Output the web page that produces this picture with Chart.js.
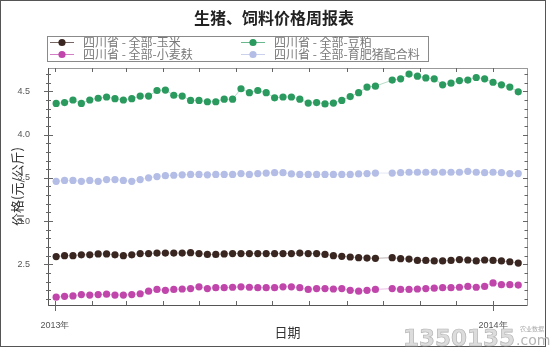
<!DOCTYPE html>
<html>
<head>
<meta charset="utf-8">
<script src="https://cdn.jsdelivr.net/npm/chart.js@4/dist/chart.umd.min.js"></script>
<style>
    html, body { margin: 0; padding: 0; background: #fff; }
    #wrap { width: 550px; height: 349px; }
</style>
</head>
<body>
<div id="wrap"><canvas id="priceChart" width="550" height="349"></canvas></div>
<script>
// Weekly sampling dates (no report on 2013-10-02, National Day week)
const weeks = [
    '2013-01-02', '2013-01-09', '2013-01-16', '2013-01-23', '2013-01-30',
    '2013-02-06', '2013-02-13', '2013-02-20', '2013-02-27',
    '2013-03-06', '2013-03-13', '2013-03-20', '2013-03-27',
    '2013-04-03', '2013-04-10', '2013-04-17', '2013-04-24',
    '2013-05-01', '2013-05-08', '2013-05-15', '2013-05-22', '2013-05-29',
    '2013-06-05', '2013-06-12', '2013-06-19', '2013-06-26',
    '2013-07-03', '2013-07-10', '2013-07-17', '2013-07-24', '2013-07-31',
    '2013-08-07', '2013-08-14', '2013-08-21', '2013-08-28',
    '2013-09-04', '2013-09-11', '2013-09-18', '2013-09-25',
    '2013-10-09', '2013-10-16', '2013-10-23', '2013-10-30',
    '2013-11-06', '2013-11-13', '2013-11-20', '2013-11-27',
    '2013-12-04', '2013-12-11', '2013-12-18', '2013-12-25',
    '2014-01-01', '2014-01-08', '2014-01-15', '2014-01-22'
];

// 元/公斤
const corn = [
    2.59, 2.60, 2.60, 2.61, 2.61, 2.62, 2.62, 2.61, 2.60, 2.61, 2.625, 2.625, 2.63, 2.63,
    2.63, 2.63, 2.635, 2.625, 2.615, 2.615, 2.62, 2.625, 2.625, 2.625, 2.625, 2.625, 2.625, 2.625,
    2.625, 2.63, 2.625, 2.625, 2.615, 2.60, 2.593, 2.585, 2.577, 2.573, 2.57,
    2.577, 2.565, 2.561, 2.545, 2.545, 2.54, 2.54, 2.545, 2.555, 2.55, 2.54, 2.55, 2.545, 2.54, 2.53, 2.515
];
const soyMeal = [
    4.36, 4.37, 4.40, 4.36, 4.40, 4.42, 4.435, 4.415, 4.40, 4.415, 4.445, 4.445, 4.51, 4.515,
    4.455, 4.445, 4.395, 4.395, 4.38, 4.38, 4.41, 4.41, 4.53, 4.485, 4.51, 4.485, 4.425, 4.435,
    4.435, 4.41, 4.365, 4.37, 4.355, 4.365, 4.395, 4.44, 4.485, 4.55, 4.56,
    4.63, 4.645, 4.70, 4.675, 4.655, 4.645, 4.575, 4.595, 4.625, 4.63, 4.66, 4.645, 4.605, 4.575, 4.55, 4.495
];
const wheatBran = [
    2.12, 2.13, 2.135, 2.15, 2.145, 2.15, 2.155, 2.145, 2.145, 2.15, 2.16, 2.19, 2.21, 2.20,
    2.21, 2.215, 2.22, 2.24, 2.22, 2.23, 2.23, 2.235, 2.24, 2.235, 2.23, 2.23, 2.23, 2.24,
    2.24, 2.23, 2.21, 2.22, 2.22, 2.215, 2.22, 2.20, 2.19, 2.20, 2.21,
    2.22, 2.21, 2.21, 2.215, 2.22, 2.225, 2.23, 2.23, 2.235, 2.245, 2.235, 2.245, 2.285, 2.265, 2.265, 2.26
];
const hogFeed = [
    3.46, 3.47, 3.47, 3.46, 3.47, 3.46, 3.48, 3.48, 3.47, 3.46, 3.48, 3.50, 3.515, 3.525,
    3.53, 3.535, 3.54, 3.54, 3.535, 3.54, 3.54, 3.54, 3.55, 3.54, 3.55, 3.555, 3.56, 3.56,
    3.545, 3.54, 3.54, 3.54, 3.54, 3.54, 3.54, 3.54, 3.545, 3.55, 3.555,
    3.555, 3.56, 3.565, 3.565, 3.565, 3.565, 3.565, 3.565, 3.565, 3.575, 3.565, 3.56, 3.565, 3.56, 3.55, 3.55
];

const seriesNames = ['四川省 - 全部-玉米', '四川省 - 全部-豆粕', '四川省 - 全部-小麦麸', '四川省 - 全部-育肥猪配合料'];
const seriesColors = ['#3a2621', '#2a9a5e', '#c046ab', '#b3bde6'];

const monthTicks = [
    '2013-01-01', '2013-02-01', '2013-03-01', '2013-04-01', '2013-05-01', '2013-06-01', '2013-07-01',
    '2013-08-01', '2013-09-01', '2013-10-01', '2013-11-01', '2013-12-01', '2014-01-01'
];
const yearLabels = { '2013': '2013年', '2014': '2014年' };
const yTicks = [2.5, 3.0, 3.5, 4.0, 4.5];

const chartTitle = '生猪、饲料价格周报表';
const yTitle = '价格(元/公斤)';
const xTitle = '日期';

// days since 2013-01-01
function dayOf(s) {
    const [y, m, d] = s.split('-').map(Number);
    return (Date.UTC(y, m - 1, d) - Date.UTC(2013, 0, 1)) / 86400000;
}

function withAlpha(hex, a) {
    const n = parseInt(hex.slice(1), 16);
    return `rgba(${n >> 16}, ${(n >> 8) & 255}, ${n & 255}, ${a})`;
}

function makeDataset(i, values) {
    return {
        label: seriesNames[i],
        data: values.map((v, k) => ({ x: dayOf(weeks[k]), y: v })),
        borderColor: withAlpha(seriesColors[i], 0.35),
        borderWidth: 1,
        backgroundColor: seriesColors[i],
        pointBackgroundColor: seriesColors[i],
        pointBorderWidth: 0,
        pointRadius: 3.6,
        tension: 0
    };
}

const CJK = '"Noto Sans CJK SC", "Noto Sans", sans-serif';

// frame, title, legend, axis ticks and the site stamp
const decorations = {
    id: 'decorations',
    beforeDraw(chart) {
        const ctx = chart.ctx;
        ctx.save();
        ctx.fillStyle = '#fff';
        ctx.fillRect(0, 0, chart.width, chart.height);
        ctx.restore();
    },
    afterDraw(chart) {
        const ctx = chart.ctx;
        const { left, right, top, bottom } = chart.chartArea;
        const xs = chart.scales.x, ys = chart.scales.y;
        ctx.save();

        // outer border
        ctx.strokeStyle = '#555';
        ctx.lineWidth = 1;
        ctx.strokeRect(0.5, 0.5, 545, 346);

        // title
        ctx.fillStyle = '#222';
        ctx.font = `bold 16px ${CJK}`;
        ctx.textAlign = 'center';
        ctx.textBaseline = 'middle';
        ctx.fillText(chartTitle, 274, 18);

        // legend box, 2 columns
        ctx.strokeStyle = '#8a8a8a';
        ctx.strokeRect(47.5, 36.5, 381, 25);
        const cols = [{ line: 50, dot: 62, text: 83 }, { line: 241, dot: 253, text: 274 }];
        const rows = [42, 54];
        ctx.font = `12px ${CJK}`;
        ctx.textAlign = 'left';
        seriesNames.forEach((name, i) => {
            const c = cols[i % 2], yy = rows[Math.floor(i / 2)];
            ctx.strokeStyle = withAlpha(seriesColors[i], 0.7);
            ctx.beginPath();
            ctx.moveTo(c.line, yy + 0.5);
            ctx.lineTo(c.line + 24, yy + 0.5);
            ctx.stroke();
            ctx.fillStyle = seriesColors[i];
            ctx.beginPath();
            ctx.arc(c.dot, yy + 0.5, 3.6, 0, Math.PI * 2);
            ctx.fill();
            ctx.fillStyle = '#7a7a7a';
            ctx.fillText(name, c.text, yy);
        });

        // plot frame
        ctx.lineWidth = 1;
        ctx.strokeStyle = '#999';
        ctx.strokeRect(Math.round(left) + 0.5, Math.round(top) + 0.5, Math.round(right - left), Math.round(bottom - top));
        ctx.strokeStyle = '#555';
        ctx.beginPath();
        ctx.moveTo(Math.round(left) + 0.5, Math.round(top));
        ctx.lineTo(Math.round(left) + 0.5, Math.round(bottom) + 0.5);
        ctx.lineTo(Math.round(right), Math.round(bottom) + 0.5);
        ctx.stroke();

        // y ticks, every 0.1
        ctx.strokeStyle = '#666';
        ctx.beginPath();
        for (let k = 21; k <= 47; k++) {
            const py = Math.round(ys.getPixelForValue(k / 10)) + 0.5;
            const major = k % 5 === 0;
            const lx = Math.round(left);
            ctx.moveTo(lx - (major ? 4 : 2), py);
            ctx.lineTo(lx + (major ? 5 : 3), py);
            const rx = Math.round(right);
            ctx.moveTo(rx - (major ? 4 : 2.5), py);
            ctx.lineTo(rx + 1, py);
        }
        // month ticks on bottom and top
        xs.ticks.forEach(t => {
            const px = Math.round(xs.getPixelForValue(t.value)) + 0.5;
            ctx.moveTo(px, bottom - 4);
            ctx.lineTo(px, bottom + (t.label ? 6 : 0));
            ctx.moveTo(px, top);
            ctx.lineTo(px, top + 4);
        });
        ctx.stroke();

        // site stamp
        ctx.textBaseline = 'alphabetic';
        ctx.textAlign = 'left';
        ctx.font = 'bold 23px "DejaVu Sans", sans-serif';
        ctx.fillStyle = '#dcdcdc';
        ctx.strokeStyle = '#b4b4b4';
        ctx.lineWidth = 0.7;
        ctx.fillText('1350135', 403, 346);
        ctx.strokeText('1350135', 403, 346);
        ctx.font = '14px "DejaVu Sans", sans-serif';
        ctx.fillStyle = '#b4b4b4';
        ctx.fillText('.com', 516, 345);
        ctx.font = `6px ${CJK}`;
        ctx.fillStyle = '#aaa';
        ctx.fillText('农业数据', 520, 331);

        ctx.restore();
    }
};

document.addEventListener('DOMContentLoaded', () => {
    const ctx = document.getElementById('priceChart').getContext('2d');

    new Chart(ctx, {
        type: 'line',
        data: {
            datasets: [
                makeDataset(0, corn),
                makeDataset(1, soyMeal),
                makeDataset(2, wheatBran),
                makeDataset(3, hogFeed)
            ]
        },
        options: {
            responsive: false,
            animation: false,
            devicePixelRatio: 1,
            layout: { padding: { top: 68, right: 23, bottom: 0, left: 0 } },
            plugins: {
                legend: { display: false },
                tooltip: { enabled: false },
                title: { display: false }
            },
            scales: {
                x: {
                    type: 'linear',
                    min: -5.8,
                    max: 393.3,
                    grid: { display: false },
                    border: { display: false },
                    afterBuildTicks: scale => {
                        scale.ticks = monthTicks.map(d => ({ value: dayOf(d) }));
                    },
                    afterFit: scale => { scale.height = 44; },
                    ticks: {
                        autoSkip: false,
                        maxRotation: 0,
                        padding: 7,
                        color: '#555',
                        font: { size: 9, family: '"Liberation Sans", Arial, sans-serif' },
                        callback: (value, i) => {
                            const d = monthTicks[i];
                            return d.slice(5, 7) === '01' ? yearLabels[d.slice(0, 4)] : '';
                        }
                    },
                    title: {
                        display: true,
                        text: xTitle,
                        color: '#333',
                        font: { size: 13, family: CJK },
                        padding: { top: 0, bottom: 9 }
                    }
                },
                y: {
                    min: 2.03,
                    max: 4.77,
                    grid: { display: false },
                    border: { display: false },
                    afterBuildTicks: scale => {
                        scale.ticks = yTicks.map(v => ({ value: v }));
                    },
                    afterFit: scale => { scale.width = 48; },
                    ticks: {
                        padding: 10,
                        color: '#555',
                        font: { size: 9, family: '"Liberation Sans", Arial, sans-serif' },
                        callback: v => Number(v).toFixed(1)
                    },
                    title: {
                        display: true,
                        text: yTitle,
                        color: '#333',
                        font: { size: 13, family: CJK },
                        padding: { top: 9, bottom: 0 }
                    }
                }
            }
        },
        plugins: [decorations]
    });
});
</script>
</body>
</html>
